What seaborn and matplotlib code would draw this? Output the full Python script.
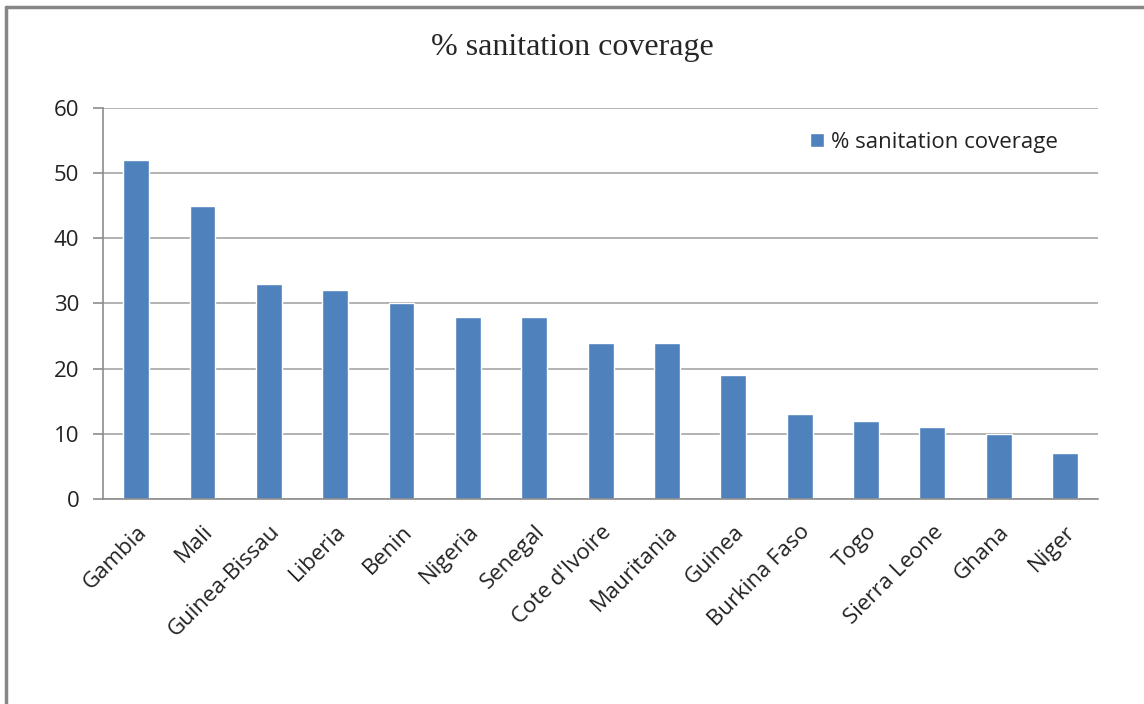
import numpy as np
import pandas as pd
import matplotlib
matplotlib.use("Agg")
import matplotlib.pyplot as plt
from matplotlib.lines import Line2D
import seaborn as sns

countries = ["Gambia", "Mali", "Guinea-Bissau", "Liberia", "Benin", "Nigeria",
             "Senegal", "Cote d'Ivoire", "Mauritania", "Guinea", "Burkina Faso",
             "Togo", "Sierra Leone", "Ghana", "Niger"]
coverage = [52, 45, 33, 32, 30, 28, 28, 24, 24, 19, 13, 12, 11, 10, 7]
series_name = "% sanitation coverage"
y_ticks = [0, 10, 20, 30, 40, 50, 60]

df = pd.DataFrame({"country": countries, "coverage": coverage})

sns.set_style("white")
plt.rcParams["font.family"] = ["Open Sans", "DejaVu Sans"]

fig = plt.figure(figsize=(11.44, 7.04), dpi=100)
ax = fig.add_axes([0.090, 0.2912, 0.870, 0.5554])

bar_color = "#4F81BD"
sns.barplot(data=df, x="country", y="coverage", color=bar_color, width=0.39,
            ax=ax, label=series_name, saturation=1)

ax.set_ylim(0, 60)
ax.set_xlim(-0.5, len(countries) - 0.5)
ax.set_yticks(y_ticks)
ax.set_yticklabels([str(t) for t in y_ticks], fontsize=16, color="#222222")
ax.yaxis.grid(True, color="#A6A6A6", linewidth=1.2)
ax.set_axisbelow(True)
ax.set_xlabel("")
ax.set_ylabel("")

# category boundary ticks like Excel
ax.set_xticks(np.arange(len(countries)))
ax.set_xticklabels(countries, rotation=45, ha="right", rotation_mode="anchor",
                   fontsize=16, color="#222222")
ax.tick_params(axis="x", which="major", length=0, pad=16)
ax.set_xticks(np.arange(-0.5, len(countries)), minor=True)
ax.tick_params(axis="x", which="minor", length=7, color="#8C8C8C", width=1.2)
ax.tick_params(axis="y", length=7, color="#8C8C8C", width=1.2, pad=10)
ax.tick_params(axis="y", left=True)

for s in ["top", "right"]:
    ax.spines[s].set_visible(False)
for s in ["left", "bottom"]:
    ax.spines[s].set_color("#8C8C8C")
    ax.spines[s].set_linewidth(1.2)

leg = ax.legend(loc="upper right", bbox_to_anchor=(0.98, 0.99), frameon=False,
                fontsize=16, handlelength=0.6, handleheight=0.6,
                handletextpad=0.35)
for t in leg.get_texts():
    t.set_color("#222222")

fig.suptitle(series_name, y=0.953, fontsize=23, family="Liberation Serif")

# outer chart frame (top and left edges visible)
fig.add_artist(Line2D([0.0055, 1.0], [0.9905, 0.9905], color="#878787",
                      linewidth=2.5, transform=fig.transFigure))
fig.add_artist(Line2D([0.0055, 0.0055], [0.0, 0.9905], color="#878787",
                      linewidth=2.5, transform=fig.transFigure))

fig.savefig("out.png", dpi=100)
plt.close(fig)
